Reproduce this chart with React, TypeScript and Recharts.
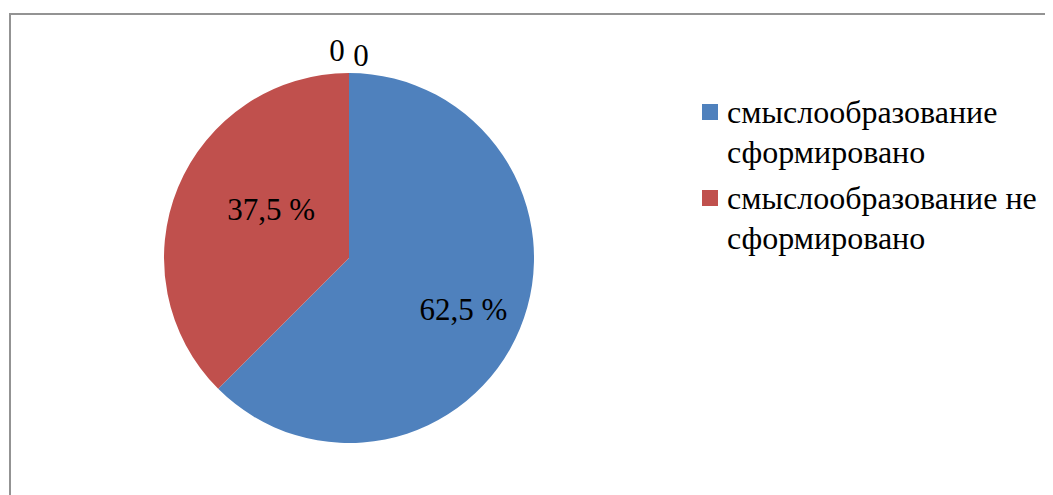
import React from "react";
import { PieChart, Pie, Cell, Legend } from "recharts";

const CATEGORIES = [
  "смыслообразование сформировано",
  "смыслообразование не сформировано",
  "Кв. 3",
  "Кв. 4",
];
const VALUES = [62.5, 37.5, 0, 0];
const COLORS = ["#4F81BD", "#C0504D", "#9BBB59", "#8064A2"];
const LEGEND_ITEMS = 2;

const FONT = "'Liberation Serif', 'Times New Roman', Tinos, 'DejaVu Serif', serif";
const RADIAN = Math.PI / 180;

const data = CATEGORIES.map((name, i) => ({ name, value: VALUES[i] }));

const renderLabel = (props: any) => {
  const { cx, cy, midAngle, outerRadius, index, value } = props;
  if (value === 0) {
    // zero slices sit at the top, Excel spreads their labels apart
    const dx = index === 2 ? -12 : 12;
    const dy = index === 2 ? -208 : -203;
    return (
      <text
        x={cx + dx}
        y={cy + dy}
        fill="#000"
        style={{ fontFamily: FONT }}
        fontSize={31}
        textAnchor="middle"
        dominantBaseline="central"
      >
        0
      </text>
    );
  }
  const factor = index === 0 ? 0.67 : 0.52;
  const shift = index === 0 ? [0, 4] : [11, -12];
  const r = outerRadius * factor;
  const x = cx + r * Math.cos(-midAngle * RADIAN) + shift[0];
  const y = cy + r * Math.sin(-midAngle * RADIAN) + shift[1];
  return (
    <text
      x={x}
      y={y}
      fill="#000"
      style={{ fontFamily: FONT }}
      fontSize={31}
      textAnchor="middle"
      dominantBaseline="central"
    >
      {String(value).replace(".", ",")} %
    </text>
  );
};

const renderLegend = () => (
  <div style={{ fontFamily: FONT, fontSize: 32, color: "#000" }}>
    {data.slice(0, LEGEND_ITEMS).map((d, i) => (
      <div
        key={d.name}
        style={{ display: "flex", alignItems: "flex-start", marginBottom: 6 }}
      >
        <span
          style={{
            display: "inline-block",
            width: 16,
            height: 16,
            background: COLORS[i],
            marginTop: 12,
            marginRight: 9,
            flexShrink: 0,
          }}
        />
        <span style={{ lineHeight: "40px", width: 320 }}>{d.name}</span>
      </div>
    ))}
  </div>
);

export default function App() {
  return (
    <div
      style={{
        position: "relative",
        width: 1045,
        height: 487,
        overflow: "hidden",
        background: "#fff",
      }}
    >
      <div
        style={{
          position: "absolute",
          left: 1,
          top: 5,
          width: 1100,
          height: 600,
          border: "2px solid #939393",
          boxSizing: "border-box",
        }}
      />
      <div style={{ position: "absolute", left: 0, top: 0 }}>
        <PieChart width={1045} height={487}>
          <Pie
            data={data}
            dataKey="value"
            nameKey="name"
            cx={336}
            cy={245}
            outerRadius={185}
            startAngle={90}
            endAngle={-270}
            stroke="none"
            label={renderLabel}
            labelLine={false}
            isAnimationActive={false}
          >
            {data.map((d, i) => (
              <Cell key={d.name} fill={COLORS[i]} />
            ))}
          </Pie>
          <Legend
            layout="vertical"
            align="right"
            verticalAlign="top"
            content={renderLegend}
            wrapperStyle={{ left: 694, top: 84, width: 345 }}
          />
        </PieChart>
      </div>
    </div>
  );
}
